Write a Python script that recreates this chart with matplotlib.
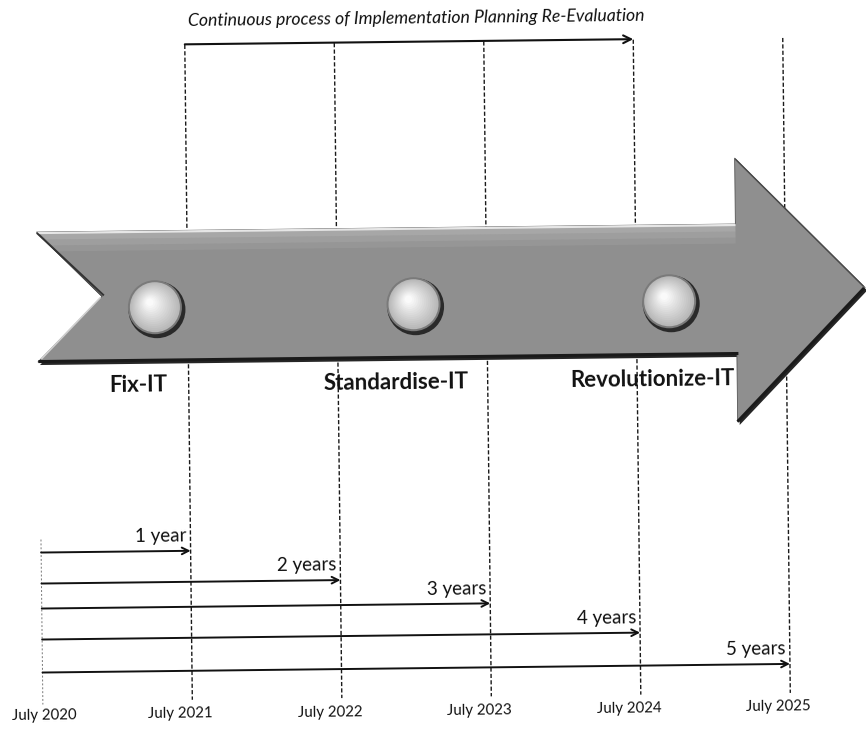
import matplotlib
matplotlib.use("Agg")
import matplotlib.pyplot as plt
from matplotlib.patches import Polygon, Ellipse
from matplotlib.transforms import Affine2D
import numpy as np

# ---------------- data ----------------
TITLE = "Continuous process of Implementation Planning Re-Evaluation"
YEARS = [2020, 2021, 2022, 2023, 2024, 2025]
YEAR_LABELS = ["July 2020", "July 2021", "July 2022", "July 2023", "July 2024", "July 2025"]
DURATIONS = [1, 2, 3, 4, 5]
DURATION_LABELS = ["1 year", "2 years", "3 years", "4 years", "5 years"]
STAGES = ["Fix-IT", "Standardise-IT", "Revolutionize-IT"]
STAGE_TIMES = [2020.78, 2022.51, 2024.22]
PROCESS_SPAN = [2021, 2024]

# ---------------- layout ----------------
W, H = 866, 731
X0_PX, PX_PER_YEAR = 39.0, 149.5
ROW_Y = [548, 579, 604, 635, 668]      # pixel rows of the duration arrows
TILT_DEG = 0.66                          # slight rotation of the scanned sheet

def px2yr(px):
    return YEARS[0] + (px - X0_PX) / PX_PER_YEAR

def dx(px):
    return px / PX_PER_YEAR

fig = plt.figure(figsize=(W / 100, H / 100), dpi=100)
ax = fig.add_axes([0, 0, 1, 1])
ax.axis("off")
ax.set_xlim(px2yr(0), px2yr(W))
ax.set_ylim(H, 0)

rot = Affine2D().rotate_deg_around(433, H - 366, TILT_DEG)
T = ax.transData + rot

FONT = ["Lato", "DejaVu Sans"]

# ---------------- title + process arrow ----------------
ax.text((PROCESS_SPAN[0] + PROCESS_SPAN[1]) / 2 + dx(7), 18, TITLE, transform=T,
        rotation=TILT_DEG, rotation_mode="anchor", ha="center", va="center",
        fontsize=12.7, style="italic", family=FONT, color="#111111")
ax.annotate("", xy=(PROCESS_SPAN[1], 41.5), xytext=(PROCESS_SPAN[0], 41.5),
            xycoords=T, textcoords=T,
            arrowprops=dict(arrowstyle="->", lw=1.5, color="#111111",
                            mutation_scale=14, shrinkA=0, shrinkB=0))

# ---------------- vertical dashed year lines ----------------
for yr in YEARS[1:]:
    ax.plot([yr, yr], [42, 697], transform=T, color="#1a1a1a", lw=1.0,
            ls=(0, (3, 1.6)), zorder=1)
ax.plot([YEARS[0], YEARS[0]], [535, 700], transform=T, color="#777777", lw=0.7,
        ls=(0, (2, 2)), zorder=1)

# ---------------- big arrow ----------------
arrow_px = [(38, 227.5), (737, 227.5), (737, 161.5), (866, 292.5),
            (737, 425.5), (737, 357.5), (38, 357.5), (103, 292.5)]
shadow = [(px2yr(x + 2), y + 3) for x, y in arrow_px]
body = [(px2yr(x), y) for x, y in arrow_px]
ax.add_patch(Polygon(shadow, closed=True, transform=T, facecolor="#262626",
                     edgecolor="none", zorder=3))
ax.add_patch(Polygon(body, closed=True, transform=T, facecolor="#8f8f8f",
                     edgecolor="#555555", lw=0.6, zorder=4))
# soft highlight bands on the upper part of the body
for i, a in enumerate([0.22, 0.14, 0.07]):
    y0 = 229 + i * 6
    ax.add_patch(Polygon([(px2yr(38 + (y0 - 227.5) + 2), y0), (px2yr(737), y0),
                          (px2yr(737), y0 + 6), (px2yr(38 + (y0 + 6 - 227.5) + 2), y0 + 6)],
                         closed=True, transform=T, facecolor="white",
                         edgecolor="none", alpha=a, zorder=4.1))
ax.plot([px2yr(40), px2yr(736)], [228.5, 228.5], transform=T, color="#e6e6e6",
        lw=1.6, zorder=4.2)
ax.plot([px2yr(42), px2yr(101)], [354, 294], transform=T, color="#d0d0d0",
        lw=1.2, zorder=4.2)
ax.plot([px2yr(40), px2yr(737)], [357, 357], transform=T, color="#1a1a1a",
        lw=2.2, zorder=4.2)
ax.plot([px2yr(864), px2yr(738)], [294, 424], transform=T, color="#1a1a1a",
        lw=2.2, zorder=4.2)
ax.plot([px2yr(738), px2yr(864)], [163, 291], transform=T, color="#4a4a4a",
        lw=1.0, zorder=4.2)
ax.plot([px2yr(104), px2yr(39)], [291, 229], transform=T, color="#333333",
        lw=1.4, zorder=4.2)

# ---------------- stage buttons + labels ----------------
R = 27
for name, t in zip(STAGES, STAGE_TIMES):
    cy = 304
    ax.add_patch(Ellipse((t + dx(2), cy + 2.5), 2 * dx(R + 1.5), 2 * (R + 1.5),
                         transform=T, facecolor="#2a2a2a", edgecolor="none", zorder=5))
    ax.add_patch(Ellipse((t, cy), 2 * dx(R), 2 * R, transform=T,
                         facecolor="#7a7a7a", edgecolor="none", zorder=5.1))
    n = 14
    for k in range(n):
        f = k / (n - 1)
        r = (R - 2) * (1 - 0.85 * f)
        off = -5 * f
        g = 0.72 + 0.26 * f
        ax.add_patch(Ellipse((t + dx(off), cy + off), 2 * dx(r), 2 * r, transform=T,
                             facecolor=(g, g, g), edgecolor="none", zorder=5.2 + k * 0.01))
    ax.text(t - dx(18), 382, name, transform=T, rotation=TILT_DEG,
            rotation_mode="anchor", ha="center", va="center", fontsize=16,
            fontweight="bold", family=FONT, color="#111111", zorder=6)

# ---------------- duration arrows ----------------
for d, lab, y in zip(DURATIONS, DURATION_LABELS, ROW_Y):
    end = YEARS[0] + d
    ax.annotate("", xy=(end, y), xytext=(YEARS[0], y), xycoords=T, textcoords=T,
                arrowprops=dict(arrowstyle="->", lw=1.4, color="#111111",
                                mutation_scale=12, shrinkA=0, shrinkB=0))
    ax.text(end - dx(4), y - 15, lab, transform=T, rotation=TILT_DEG,
            rotation_mode="anchor", ha="right", va="center", fontsize=13.5,
            family=FONT, color="#111111")

# ---------------- year labels ----------------
for yr, lab in zip(YEARS, YEAR_LABELS):
    xp = max(X0_PX + (yr - YEARS[0]) * PX_PER_YEAR - 12, 40)
    ax.text(px2yr(xp), 711, lab, transform=T, rotation=TILT_DEG,
            rotation_mode="anchor", ha="center", va="center", fontsize=10.8,
            family=FONT, color="#111111")

fig.savefig("out.png", dpi=100, facecolor="white")
